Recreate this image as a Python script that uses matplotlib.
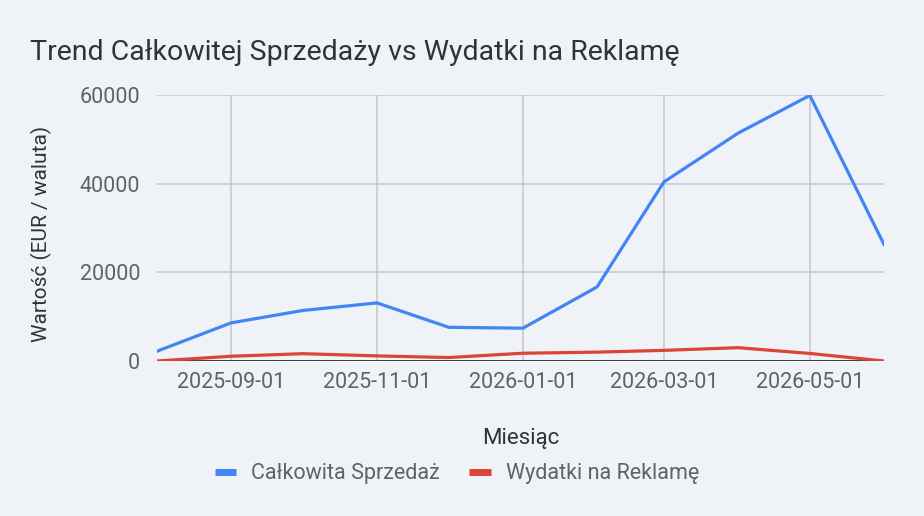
import numpy as np
import pandas as pd
import matplotlib
matplotlib.use('Agg')
import matplotlib.pyplot as plt
import matplotlib.dates as mdates

plt.rcParams['font.family'] = ['Roboto', 'DejaVu Sans']

# data
months = pd.date_range('2025-08-01', '2026-06-01', freq='MS')
sales = [2200, 8600, 11400, 13100, 7600, 7400, 16700, 40400, 51400, 59900, 26300]
ads = [0, 1070, 1650, 1150, 780, 1750, 2000, 2400, 3000, 1700, 0]
series_names = ['Całkowita Sprzedaż', 'Wydatki na Reklamę']
tick_dates = ['2025-09-01', '2025-11-01', '2026-01-01', '2026-03-01', '2026-05-01']
y_ticks = [0, 20000, 40000, 60000]

bg = '#eff3f8'
fig = plt.figure(figsize=(9.24, 5.16), dpi=100, facecolor=bg)
ax = fig.add_axes([0.1699, 0.3004, 0.7868, 0.5155], facecolor=bg)

ax.plot(months, sales, color='#4285f4', lw=2.3, label=series_names[0], zorder=3)
ax.plot(months, ads, color='#db4437', lw=2.3, label=series_names[1], zorder=3)

ax.set_xlim(months[0], months[-1])
ax.set_ylim(0, 60000)
ax.set_yticks(y_ticks)
ax.set_yticklabels([str(v) for v in y_ticks])
ticks = pd.to_datetime(tick_dates)
ax.set_xticks(ticks)
ax.set_xticklabels(tick_dates)

ax.grid(True, color='#c4c6ca', lw=1.1, zorder=0)
ax.axhline(0, color='#333333', lw=1.3, zorder=2)
for s in ax.spines.values():
    s.set_visible(False)
ax.tick_params(length=0, labelsize=15.5, labelcolor='#5f6368')
ax.tick_params(axis='y', pad=12)
ax.tick_params(axis='x', pad=8)

ax.set_ylabel('Wartość (EUR / waluta)', fontsize=15, color='#333333')
ax.yaxis.set_label_coords(-0.144, 0.477)
ax.set_xlabel('Miesiąc', fontsize=16, color='#333333', labelpad=25)

fig.text(30 / 924, 1 - 52 / 516, 'Trend Całkowitej Sprzedaży vs Wydatki na Reklamę',
         fontsize=20.5, color='#333333', va='center', ha='left')

leg = fig.legend(loc='center', bbox_to_anchor=(457 / 924, 1 - 474 / 516), ncol=2,
                 frameon=False, fontsize=15.5, handlelength=1.0, columnspacing=1.35,
                 handletextpad=0.7)
for t in leg.get_texts():
    t.set_color('#5f6368')
for h in leg.get_lines():
    h.set_linewidth(5)
    h.set_solid_capstyle('butt')

fig.savefig('out.png', dpi=100, facecolor=bg)
